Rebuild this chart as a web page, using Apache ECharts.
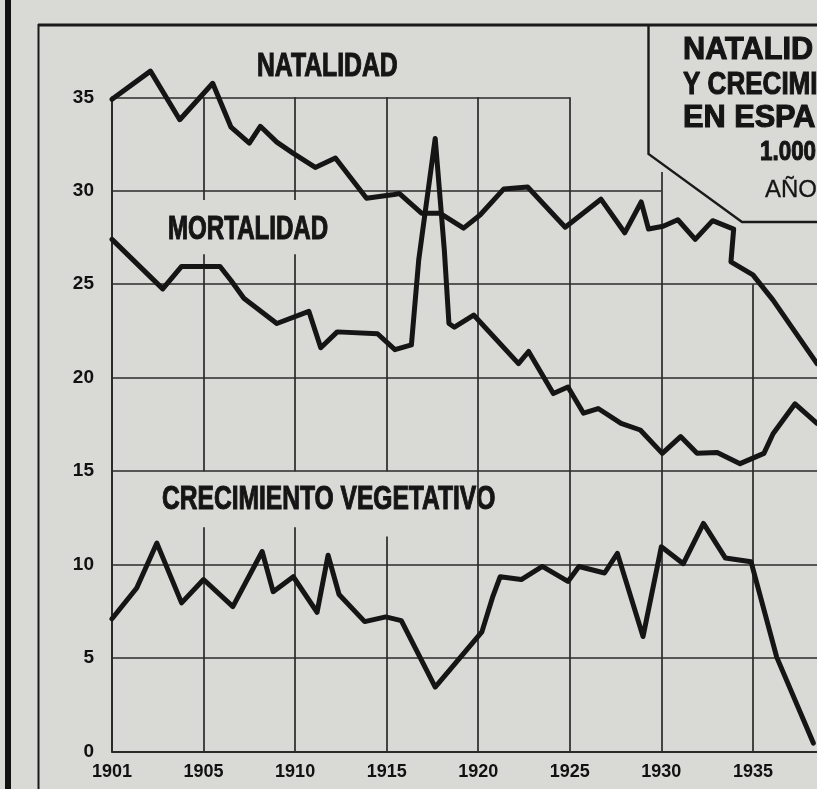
<!DOCTYPE html>
<html><head><meta charset="utf-8">
<script src="https://cdn.jsdelivr.net/npm/echarts@6/dist/echarts.min.js"></script>
<style>html,body{margin:0;padding:0;background:#d9d9d6}#c{width:817px;height:789px}</style>
</head><body><div id="c"></div><script>
// ---- data (x = position along the year axis, y = rate per 1.000) ----
const natalidadYears  = [1900,1902.1,1903.7,1905.5,1906.5,1907.5,1908.1,1909.0,1909.9,1911.1,1912.2,1913.9,1915.4,1915.7,1916.9,1917.9,1919.2,1920.1,1921.4,1922.7,1924.75,1926.7,1928.0,1928.9,1929.3,1930.1,1930.9,1931.85,1932.8,1933.95,1933.8,1935.0,1936.1,1938.5];
const natalidadValues = [34.9,36.4,33.8,35.75,33.4,32.55,33.45,32.6,32.0,31.25,31.75,29.6,29.8,29.85,28.8,28.8,28.0,28.7,30.1,30.2,28.05,29.55,27.75,29.4,27.95,28.1,28.45,27.4,28.4,27.95,26.2,25.5,24.15,20.75];

const mortalidadYears  = [1900,1902.77,1903.8,1905.9,1906.5,1907.2,1909.0,1910.75,1911.4,1912.3,1914.5,1915.45,1916.35,1916.75,1917.65,1918.15,1918.4,1918.7,1919.75,1922.2,1922.75,1924.1,1924.9,1925.75,1926.55,1927.8,1928.85,1930.05,1931.05,1931.95,1933.05,1934.3,1935.6,1936.1,1937.3,1938.5];
const mortalidadValues = [27.4,24.75,25.95,25.95,25.2,24.25,22.9,23.55,21.6,22.45,22.35,21.5,21.75,26.3,32.8,26.8,22.9,22.7,23.35,20.75,21.4,19.15,19.5,18.1,18.35,17.55,17.2,15.95,16.85,15.95,16.0,15.4,15.95,17.0,18.6,17.55];

const crecimientoYears  = [1900,1901.35,1902.45,1903.8,1905.0,1906.6,1908.2,1908.8,1909.9,1911.2,1911.8,1912.4,1913.8,1914.95,1915.8,1917.65,1920.2,1920.8,1921.2,1922.35,1923.5,1924.9,1925.5,1926.9,1927.6,1929.0,1930.0,1931.2,1932.3,1933.5,1934.9,1936.3,1938.3];
const crecimientoValues = [7.1,8.75,11.15,7.95,9.2,7.75,10.7,8.55,9.35,7.45,10.5,8.4,6.95,7.2,7.0,3.45,6.4,8.3,9.35,9.2,9.9,9.1,9.9,9.55,10.6,6.15,10.95,10.05,12.2,10.35,10.15,5.05,0.45];

const xTickValues = [1900,1905,1910,1915,1920,1925,1930,1935];
const xTickLabels = ['1901','1905','1910','1915','1920','1925','1930','1935'];

const seriesNames = ['NATALIDAD','MORTALIDAD','CRECIMIENTO VEGETATIVO'];
const titleLines = ['NATALID','Y CRECIMI','EN ESPA','1.000','AÑO'];

// ---- chart ----
const zip = (xs, ys) => xs.map((x, i) => [x, ys[i]]);
const INK = '#151515';
const GRID = '#2a2a2a';
const LBL = '"Liberation Sans", Arial, sans-serif';

// grid segments [x1,y1,x2,y2] in data space
const gridSegs = [
  [1900,35,1925,35],[1900,30,1930,30],
  [1900,25,1938.5,25],[1900,20,1938.5,20],[1900,15,1938.5,15],[1900,10,1938.5,10],[1900,5,1938.5,5],
  [1905,35,1905,29.5],[1905,26.6,1905,15],[1905,12,1905,0],
  [1910,35,1910,29.5],[1910,26.6,1910,15],[1910,12,1910,0],
  [1915,35,1915,15],[1915,11.5,1915,0],
  [1920,35,1920,0],[1925,35,1925,0],[1930,31,1930,0],[1935,25,1935,0]
];

const chart = echarts.init(document.getElementById('c'), null, {renderer:'canvas'});
const lineSeries = (name, xs, ys) => ({
  name, type:'line', data: zip(xs, ys), showSymbol:false, symbol:'none', clip:false, z:5,
  lineStyle:{color:INK, width:5, join:'round', cap:'round'}, animation:false
});
const heavy = (text, x, y, size, sx, weight) => ({
  type:'text', x, y, scaleX:sx,
  style:{text, font:(weight||'bold')+' '+size+'px '+LBL, fill:INK, stroke:INK, lineWidth:weight==='normal'?0.3:1.1,
         textAlign:'left', textVerticalAlign:'middle'}
});

chart.setOption({
  backgroundColor:'#d9d9d6',
  animation:false,
  grid:{left:112, right:0, top:97.3, bottom:37.5, containLabel:false},
  xAxis:{
    type:'value', min:1900, max:1938.5, interval:5,
    axisLine:{show:true, lineStyle:{color:GRID, width:2}},
    axisTick:{show:false}, splitLine:{show:false},
    axisLabel:{
      margin:12, color:'#111', fontFamily:LBL, fontWeight:'bold', fontSize:18,
      showMaxLabel:false,
      formatter: v => { const i = xTickValues.indexOf(v); return i >= 0 ? xTickLabels[i] : ''; }
    }
  },
  yAxis:{
    type:'value', min:0, max:35, interval:5,
    axisLine:{show:true, lineStyle:{color:GRID, width:2}},
    axisTick:{show:false}, splitLine:{show:false},
    axisLabel:{margin:18, color:'#111', fontFamily:LBL, fontWeight:'bold', fontSize:19, padding:[0,0,11,0]}
  },
  series:[
    {type:'lines', coordinateSystem:'cartesian2d', z:1, silent:true, animation:false,
     lineStyle:{color:GRID, width:1.7, opacity:1},
     data: gridSegs.map(s => ({coords:[[s[0],s[1]],[s[2],s[3]]]}))},
    lineSeries(seriesNames[0], natalidadYears, natalidadValues),
    lineSeries(seriesNames[1], mortalidadYears, mortalidadValues),
    lineSeries(seriesNames[2], crecimientoYears, crecimientoValues)
  ],
  graphic:[
    {type:'rect', shape:{x:5, y:0, width:6, height:789}, style:{fill:'#111'}},
    {type:'line', shape:{x1:38.5, y1:24, x2:38.5, y2:789}, style:{stroke:'#1a1a1a', lineWidth:2}},
    {type:'line', shape:{x1:38, y1:25, x2:817, y2:25}, style:{stroke:'#1a1a1a', lineWidth:3}},
    {type:'polyline', shape:{points:[[648.5,25],[648.5,154],[742,222],[817,222]]}, style:{stroke:'#1a1a1a', lineWidth:2.4, fill:null}},
    heavy(seriesNames[0], 257, 67, 33, 0.75),
    heavy(seriesNames[1], 168, 230, 33, 0.73),
    heavy(seriesNames[2], 162, 500, 33, 0.745),
    heavy(titleLines[0], 683, 50, 31, 0.99),
    heavy(titleLines[1], 683, 85, 31, 0.84),
    heavy(titleLines[2], 683, 118, 31, 0.99),
    heavy(titleLines[3], 760, 152, 28, 0.8),
    heavy(titleLines[4], 765, 190, 24, 1, 'normal')
  ]
});
</script></body></html>
